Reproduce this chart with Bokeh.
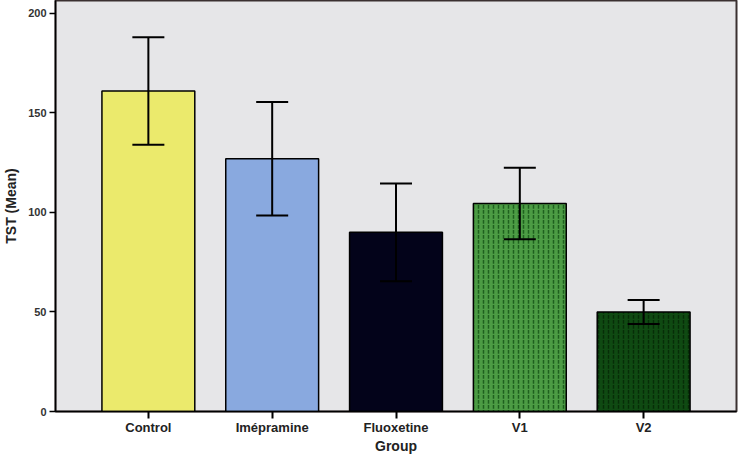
from bokeh.plotting import figure
from bokeh.models import ColumnDataSource, Range1d, FactorRange, Whisker
from bokeh.embed import file_html
from bokeh.resources import INLINE

groups = ["Control", "Imépramine", "Fluoxetine", "V1", "V2"]
means = [161, 127, 90, 104.5, 50]
errors = [27, 28.5, 24.5, 18, 6]
colors = ["#ebea6c", "#89a9df", "#03031a", "#4c9c44", "#0f4a12"]
hatches = [" ", " ", " ", ":", ":"]
hatch_colors = ["#000000", "#000000", "#000000", "#1a5a1a", "#052a05"]
y_ticks = [0, 50, 100, 150, 200]

src = ColumnDataSource(dict(
    g=groups, m=means,
    lo=[m - e for m, e in zip(means, errors)],
    hi=[m + e for m, e in zip(means, errors)],
    c=colors, h=hatches, hc=hatch_colors,
))

p = figure(x_range=FactorRange(*groups, range_padding=0.1),
           y_range=Range1d(0, 206.5),
           width=740, height=456, output_backend="svg", toolbar_location=None,
           min_border_left=47, min_border_right=4, min_border_top=0, min_border_bottom=0)

p.vbar(x="g", top="m", width=0.75, source=src, fill_color="c",
       line_color="black", line_width=1.5,
       hatch_pattern="h", hatch_color="hc", hatch_scale=5, hatch_alpha=0.9, hatch_weight=1.5)

w = Whisker(base="g", lower="lo", upper="hi", source=src,
            line_color="black", line_width=2, level="overlay")
w.upper_head.size = 32
w.lower_head.size = 32
w.upper_head.line_width = 2
w.lower_head.line_width = 2
w.upper_head.line_color = "black"
w.lower_head.line_color = "black"
p.add_layout(w)

p.background_fill_color = "#e6e6e8"
p.border_fill_color = "white"
p.outline_line_color = "#3a3030"
p.outline_line_width = 2
p.xgrid.visible = False
p.ygrid.visible = False

p.yaxis.ticker = y_ticks
p.yaxis.minor_tick_line_color = None
p.yaxis.major_tick_out = 6
p.yaxis.major_tick_in = 0
p.yaxis.axis_line_width = 1.5
p.yaxis.major_tick_line_width = 1.5
p.yaxis.axis_label = "TST (Mean)"
p.yaxis.major_label_text_font = "Liberation Sans"
p.yaxis.major_label_text_font_size = "11px"
p.yaxis.major_label_text_font_style = "bold"
p.yaxis.major_label_text_color = "#333333"
p.yaxis.major_label_standoff = 3

p.xaxis.major_tick_out = 7
p.xaxis.major_tick_in = 0
p.xaxis.axis_line_width = 1.5
p.xaxis.major_tick_line_width = 2
p.xaxis.axis_label = "Group"
p.xaxis.major_label_text_font = "Liberation Sans"
p.xaxis.major_label_text_font_size = "13px"
p.xaxis.major_label_text_font_style = "bold"
p.xaxis.major_label_text_color = "#222222"
p.xaxis.major_label_standoff = 1
p.xaxis.axis_label_standoff = 0

for ax in (p.xaxis, p.yaxis):
    ax.axis_label_text_font = "Liberation Sans"
    ax.axis_label_text_font_size = "14px"
    ax.axis_label_text_font_style = "bold"
    ax.axis_label_text_color = "#222222"
p.yaxis.axis_label_standoff = 6

open("out.html", "w").write(file_html(p, INLINE))
